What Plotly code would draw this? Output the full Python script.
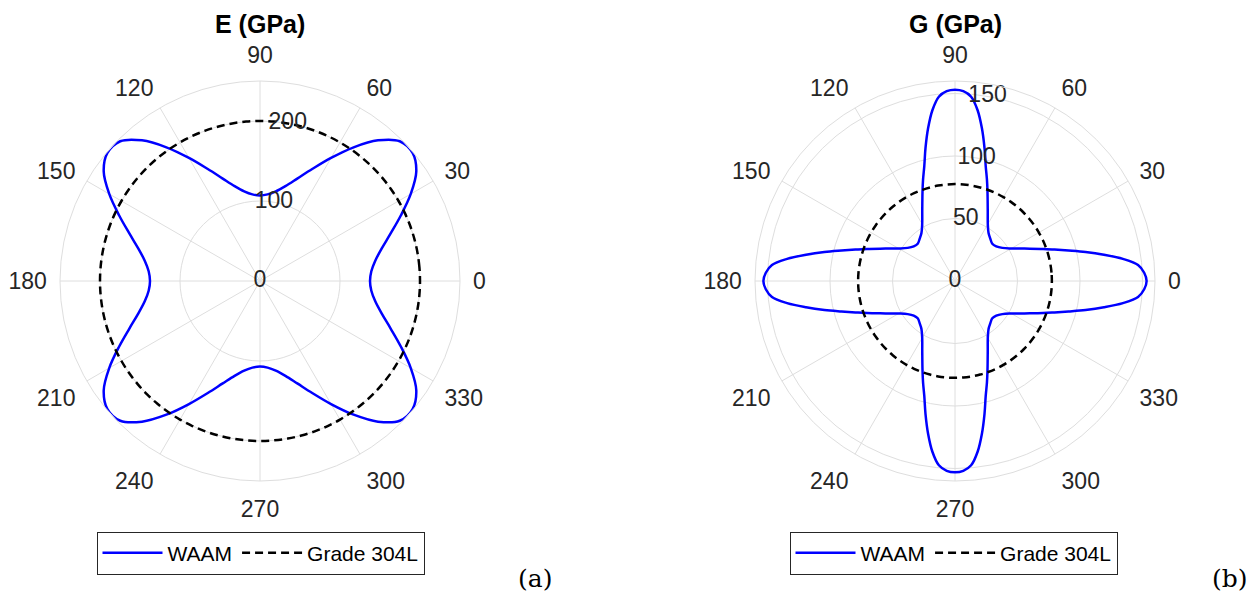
import plotly.graph_objects as go

# Directional moduli of the WAAM material over one quadrant (0-90 deg).
# Both curves are symmetric about the 0-180 and 90-270 axes.
E_ANGLES_Q = [0, 5, 10, 15, 20, 25, 30, 35, 40, 45, 50, 55, 60, 65, 70, 75, 80, 85, 90]
E_WAAM_Q = [137.5, 139.7, 146.3, 157.6, 173.8, 194.4, 217.6, 238.5, 249.0, 247.0,
            229.5, 204.0, 177.6, 154.4, 136.2, 122.8, 113.8, 108.7, 107.0]

G_ANGLES_Q = [0, 2.5, 5, 7.5, 10, 12.5, 15, 17.5, 20, 25, 30, 35, 40, 45, 50, 55,
              60, 65, 70, 72.5, 75, 77.5, 80, 82.5, 85, 87.5, 90]
G_WAAM_Q = [153.3, 151.5, 147.0, 135.5, 121.0, 107.0, 94.0, 83.5, 75.0, 61.3, 52.1,
            46.2, 43.1, 42.2, 44.0, 46.8, 52.5, 62.0, 76.0, 85.0, 95.0, 109.0, 124.0,
            138.0, 148.0, 152.0, 153.0]

# Isotropic reference values for Grade 304L
E_304L = 200.0
G_304L = 77.5

E_RTICKS = [0, 100, 200]
E_RMAX = 250
G_RTICKS = [0, 50, 100, 150]
G_RMAX = 160
ANG_TICKS = list(range(0, 360, 30))


def full_circle(angles, quarter):
    """Mirror a 0-90 deg quadrant into a closed 0-360 deg curve."""
    th = list(angles)
    r = list(quarter)
    # 90-180: mirror about the vertical axis
    th += [180 - a for a in reversed(angles[:-1])]
    r += list(reversed(quarter[:-1]))
    # 180-360: mirror the upper half about the horizontal axis
    upper_th, upper_r = th[:], r[:]
    th += [360 - a for a in reversed(upper_th[:-1])]
    r += list(reversed(upper_r[:-1]))
    return th, r


BLUE = "#0000ff"
GRID = "#dedede"
TXT = "#262626"
FONT = "Liberation Sans"

fig = go.Figure()

panels = [
    ("polar", "legend", E_ANGLES_Q, E_WAAM_Q, E_304L, E_RTICKS),
    ("polar2", "legend2", G_ANGLES_Q, G_WAAM_Q, G_304L, G_RTICKS),
]

for sub, leg, angles, quarter, iso, rticks in panels:
    th, r = full_circle(angles, quarter)
    fig.add_trace(go.Scatterpolar(
        theta=th, r=r, mode="lines", name="WAAM", subplot=sub, legend=leg,
        line=dict(color=BLUE, width=2.5, shape="spline"), hoverinfo="skip"))
    iso_th = list(range(0, 361, 5))
    fig.add_trace(go.Scatterpolar(
        theta=iso_th, r=[iso] * len(iso_th), mode="lines", name="Grade 304L",
        subplot=sub, legend=leg,
        line=dict(color="black", width=2.5, dash="8px,5px", shape="spline"),
        hoverinfo="skip"))
    # radial tick labels sit along the 80 deg direction
    fig.add_trace(go.Scatterpolar(
        theta=[80] * len(rticks), r=rticks, mode="text",
        text=[str(t) for t in rticks], textposition="middle center",
        textfont=dict(family=FONT, size=23, color=TXT),
        subplot=sub, showlegend=False, hoverinfo="skip"))


def polar_layout(x0, x1, rticks, rmax):
    return dict(
        domain=dict(x=[x0, x1], y=[1 - 481 / 597, 1 - 81 / 597]),
        bgcolor="white",
        radialaxis=dict(range=[0, rmax], tickvals=rticks, showticklabels=False,
                        showline=False, ticks="", gridcolor=GRID, gridwidth=1,
                        angle=80),
        angularaxis=dict(tickvals=ANG_TICKS, ticktext=[str(a) for a in ANG_TICKS],
                         direction="counterclockwise", rotation=0,
                         showline=True, linecolor=GRID, linewidth=1,
                         gridcolor=GRID, gridwidth=1,
                         ticks="outside", ticklen=8, tickcolor="rgba(0,0,0,0)",
                         tickfont=dict(family=FONT, size=23, color=TXT)),
    )


W, H = 1251, 597
legend_style = dict(orientation="h", xanchor="center", yanchor="middle",
                    bordercolor=TXT, borderwidth=1, bgcolor="white",
                    font=dict(family=FONT, size=21, color="black"),
                    itemwidth=60)

fig.update_layout(
    width=W, height=H,
    margin=dict(l=0, r=0, t=0, b=0),
    paper_bgcolor="white",
    polar=polar_layout(60 / W, 460 / W, E_RTICKS, E_RMAX),
    polar2=polar_layout(755 / W, 1155 / W, G_RTICKS, G_RMAX),
    legend=dict(x=260.5 / W, y=1 - 553 / H, **legend_style),
    legend2=dict(x=953.5 / W, y=1 - 553 / H, **legend_style),
    annotations=[
        dict(text="<b>E (GPa)</b>", x=260 / W, y=1 - 24 / H, xref="paper", yref="paper",
             showarrow=False, font=dict(family=FONT, size=25, color="black"),
             xanchor="center", yanchor="middle"),
        dict(text="<b>G (GPa)</b>", x=955 / W, y=1 - 24 / H, xref="paper", yref="paper",
             showarrow=False, font=dict(family=FONT, size=25, color="black"),
             xanchor="center", yanchor="middle"),
        dict(text="(a)", x=535 / W, y=1 - 578 / H, xref="paper", yref="paper",
             showarrow=False, font=dict(family="DejaVu Serif", size=25, color="black"),
             xanchor="center", yanchor="middle"),
        dict(text="(b)", x=1230 / W, y=1 - 578 / H, xref="paper", yref="paper",
             showarrow=False, font=dict(family="DejaVu Serif", size=25, color="black"),
             xanchor="center", yanchor="middle"),
    ],
)

fig.write_html("out.html")
